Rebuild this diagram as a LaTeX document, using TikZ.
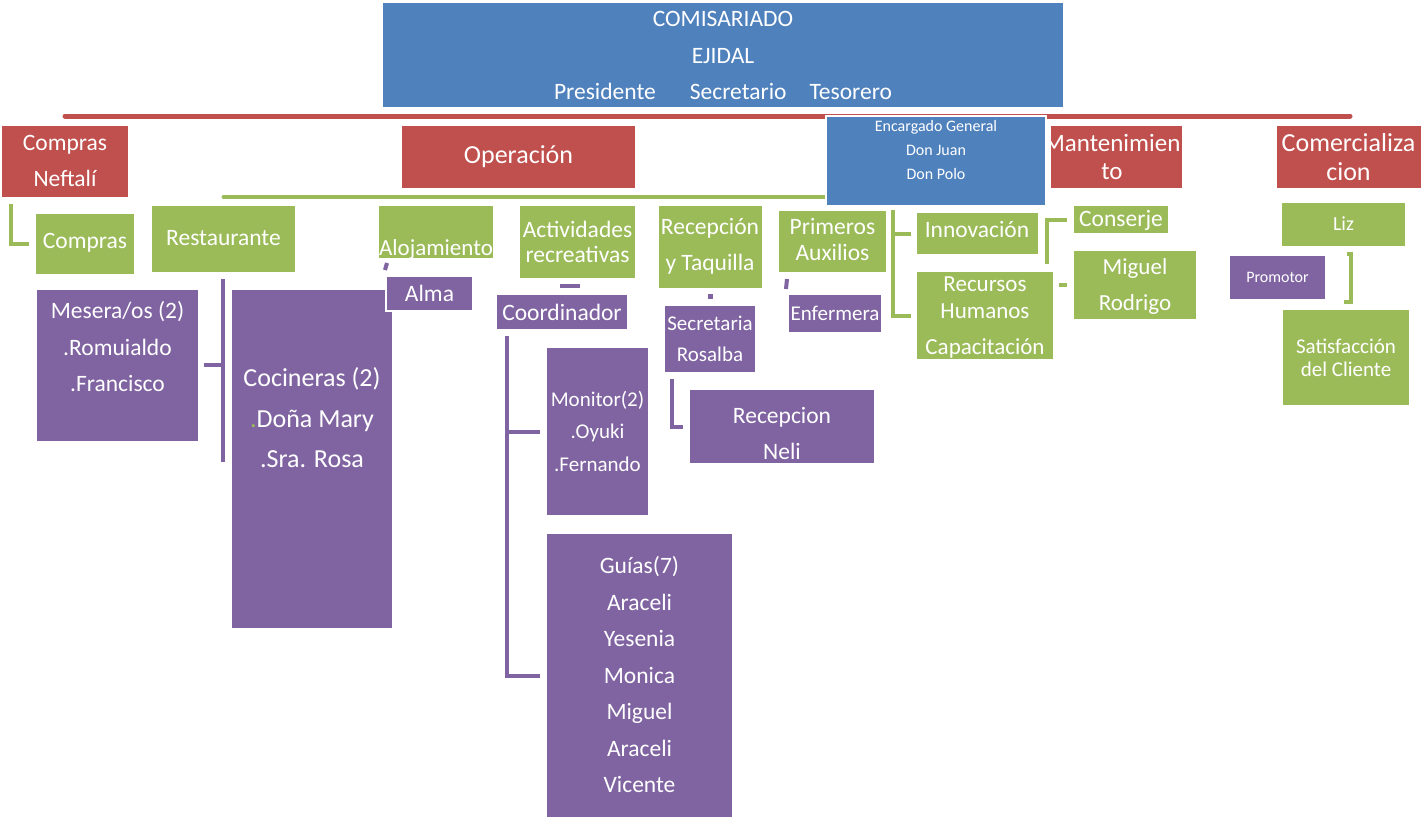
\documentclass[tikz,border=0pt]{standalone}
\usepackage{fontspec}
\setmainfont{Carlito}
\definecolor{cblue}{HTML}{4F81BD}
\definecolor{cred}{HTML}{C0504D}
\definecolor{cgreen}{HTML}{9BBB59}
\definecolor{cpurple}{HTML}{8064A2}
\newcommand\fz[2]{\fontsize{#1pt}{#2pt}\selectfont}
\newcommand\obox[6]{\node[box,fill=#2,minimum width={(#5-#3)*0.5pt},minimum height={(#6-#4)*0.5pt}] (#1) at ({(#3+#5)/2},{(#4+#6)/2}) {};}
\begin{document}
\begin{tikzpicture}[x=0.5pt,y=-0.5pt,
  box/.style={draw=white,line width=1.2pt,inner sep=0pt,outer sep=0pt},
  txt/.style={text=white,align=center,inner sep=0pt},
  rbar/.style={draw=cred,line width=2.5pt,line cap=round},
  gbar/.style={draw=cgreen,line width=2pt,line cap=round},
  gln/.style={draw=cgreen,line width=2pt},
  pln/.style={draw=cpurple,line width=2pt}]
\useasboundingbox[fill=white] (0,0) rectangle (1421,820);

% ---------- top box ----------
\obox{bTop}{cblue}{382}{2}{1064}{108}
\node[txt,font=\fz{11.75}{18.25}] (tTop) at (723,55.7)
  {COMISARIADO\\EJIDAL\\Presidente\hspace{17pt}Secretario\hspace{11.5pt}Tesorero};

% ---------- bar anchors ----------
\coordinate (rb) at (0,116);
\coordinate (gb) at (0,197);
\coordinate (gbend) at (936,197);

% ---------- red boxes ----------
\obox{bCN}{cred}{1}{125}{129}{198}
\obox{bOp}{cred}{401}{125}{636}{189}
\obox{bMant}{cred}{1050}{125}{1183}{189}
\obox{bCom}{cred}{1276}{125}{1424}{189}
\draw[rbar] (bCN |- rb) -- (bCom |- rb);
\node[txt,font=\fz{11.75}{18}] (tCN) at (65,161) {Compras\\Neftalí};
\node[txt,font=\fz{13}{14}] (tOp) at (518.5,157) {Operación};
\node[txt,font=\fz{12.5}{14}] (tMant) at (1112,157) {Mantenimien\\to};
\node[txt,font=\fz{13}{14.5}] (tCom) at (1348.5,157.5) {Comercializa\\cion};

% ---------- green boxes ----------
\obox{bComp}{cgreen}{35}{213}{135}{275}
\obox{bRest}{cgreen}{151}{205}{296}{273}
\draw[gbar] (bRest |- gb) -- (gbend);

% ---------- blue Encargado ----------
\obox{bEnc}{cblue}{826}{116}{1046}{206}
\node[txt,font=\fz{8}{12}] (tEnc) at (936,150) {Encargado General\\Don Juan\\Don Polo};

\obox{bAloj}{cgreen}{378}{205}{494}{259}
\obox{bAct}{cgreen}{519}{205}{636}{279}
\obox{bRecep}{cgreen}{658}{205}{763}{289}
\obox{bPrim}{cgreen}{778}{210}{887}{273}
\obox{bInn}{cgreen}{916}{212}{1039}{255}
\obox{bRH}{cgreen}{916}{271}{1054}{360}
\obox{bCons}{cgreen}{1073}{205}{1169}{234}
\obox{bMig}{cgreen}{1073}{250}{1197}{320}
\obox{bLiz}{cgreen}{1281}{202}{1406}{247}
\obox{bSat}{cgreen}{1282}{309}{1410}{406}

\node[txt,font=\fz{11.75}{14}] (tComp) at (85,243) {Compras};
\node[txt,font=\fz{11.75}{14}] (tRest) at (223.5,238.5) {Restaurante};
\begin{scope}
\clip (378,205) rectangle (494,258);
\node[txt,font=\fz{11.5}{14}] (tAloj) at (436,249.5) {Alojamiento};
\end{scope}
\node[txt,font=\fz{11.75}{12.5}] (tAct) at (577.5,241.5) {Actividades\\recreativas};
\node[txt,font=\fz{11.75}{18}] (tRecep) at (710,246.5) {Recepción\\y Taquilla};
\node[txt,font=\fz{11.75}{13}] (tPrim) at (832.5,239) {Primeros\\Auxilios};
\node[txt,font=\fz{11.75}{14}] (tInn) at (977,229.5) {Innovación};
\node[txt,font=\fz{11.5}{13.5}] (tRH) at (985,317.5) {Recursos\\Humanos\\[4.5pt]Capacitación};
\node[txt,font=\fz{11.75}{14}] (tCons) at (1121,220.5) {Conserje};
\node[txt,font=\fz{11.5}{18}] (tMig) at (1135,286) {Miguel\\Rodrigo};
\node[txt,font=\fz{10}{12}] (tLiz) at (1343.5,224) {Liz};
\node[txt,font=\fz{10.5}{11.5}] (tSat) at (1346,357.5) {Satisfacción\\del Cliente};

% ---------- purple boxes ----------
\obox{bProm}{cpurple}{1229}{255}{1326}{300}
\obox{bMes}{cpurple}{36}{289}{199}{442}
\obox{bCoc}{cpurple}{231}{289}{393}{629}
\obox{bAlma}{cpurple}{386}{276}{473}{311}
\obox{bCoord}{cpurple}{496}{294}{628}{330}
\obox{bSecr}{cpurple}{664}{305}{756}{373}
\obox{bEnf}{cpurple}{788}{294}{882}{333}
\obox{bMon}{cpurple}{546}{347}{649}{516}
\obox{bGui}{cpurple}{546}{533}{733}{818}
\obox{bRec}{cpurple}{689}{389}{875}{464}

\node[txt,font=\fz{8}{10}] (tProm) at (1277.5,277) {Promotor};
\node[txt,font=\fz{11.75}{18.25}] (tMes) at (117.5,346.5) {Mesera/os (2)\\.Romuialdo\\.Francisco};
\node[txt,font=\fz{13}{20.25}] (tCoc) at (312,418) {Cocineras (2)\\\textcolor{cgreen}{.}Doña Mary\\.Sra. Rosa};
\node[txt,font=\fz{11.75}{14}] (tAlma) at (429.5,293) {Alma};
\node[txt,font=\fz{11.75}{14}] (tCoord) at (562,312) {Coordinador};
\node[txt,font=\fz{10.5}{15.5}] (tSecr) at (710,338.5) {Secretaria\\Rosalba};
\node[txt,font=\fz{10.5}{12}] (tEnf) at (835,313) {Enfermera};
\node[txt,font=\fz{10.5}{16.25}] (tMon) at (597.5,431) {Monitor(2)\\.Oyuki\\.Fernando};
\node[txt,font=\fz{11.75}{18.25}] (tGui) at (639.5,674.5) {Guías(7)\\Araceli\\Yesenia\\Monica\\Miguel\\Araceli\\Vicente};
\node[txt,font=\fz{11.75}{18}] (tRec) at (782,433) {Recepcion\\Neli};

% ---------- connectors ----------
\coordinate (c1) at (11,204);
\draw[gln] (c1) |- ([xshift=-3pt]bComp.west);

\coordinate (r1) at (223,279);
\coordinate (r2) at (223,462);
\coordinate (r3) at (223,365);
\draw[pln] (r1) -- (r2);
\draw[pln] (r3) -- ([xshift=2.5pt]bMes.east |- r3);

\coordinate (a1) at (387,263);
\coordinate (a2) at (385,270);
\draw[pln] (a1) -- (a2);

\coordinate (d1) at (560,286);
\coordinate (d2) at (580,286);
\draw[pln,line width=1.75pt] (d1) -- (d2);

\coordinate (k1) at (507,336);
\draw[pln] (k1) |- ([xshift=-3pt]bGui.west);
\draw[pln] (k1 |- bMon.west) -- ([xshift=-3pt]bMon.west);

\coordinate (q1) at (710,294);
\coordinate (q2) at (710,299);
\draw[pln,line width=2.5pt] (q1) -- (q2);

\coordinate (s1) at (672,379);
\draw[pln] (s1) |- ([xshift=-3pt]bRec.west);

\coordinate (p1) at (787,279);
\coordinate (p2) at (786,289);
\draw[pln] (p1) -- (p2);

\coordinate (e1) at (893,210);
\draw[gln] (e1) |- ([xshift=-2.5pt]bRH.west);
\draw[gln] (e1 |- bInn.west) -- ([xshift=-2.5pt]bInn.west);

\coordinate (i1) at (1047,264);
\draw[gln] (i1) |- ([xshift=-3pt]bCons.west);

\draw[gln] ([xshift=-7pt]bMig.west) -- ([xshift=-3pt]bMig.west);

\coordinate (lz1) at (1347,254);
\coordinate (lz2) at (1351,254);
\coordinate (lz3) at (1351,302);
\coordinate (lz4) at (1344,302);
\draw[gln] (lz1) -- (lz2) -- (lz3) -- (lz4);
\end{tikzpicture}
\end{document}
